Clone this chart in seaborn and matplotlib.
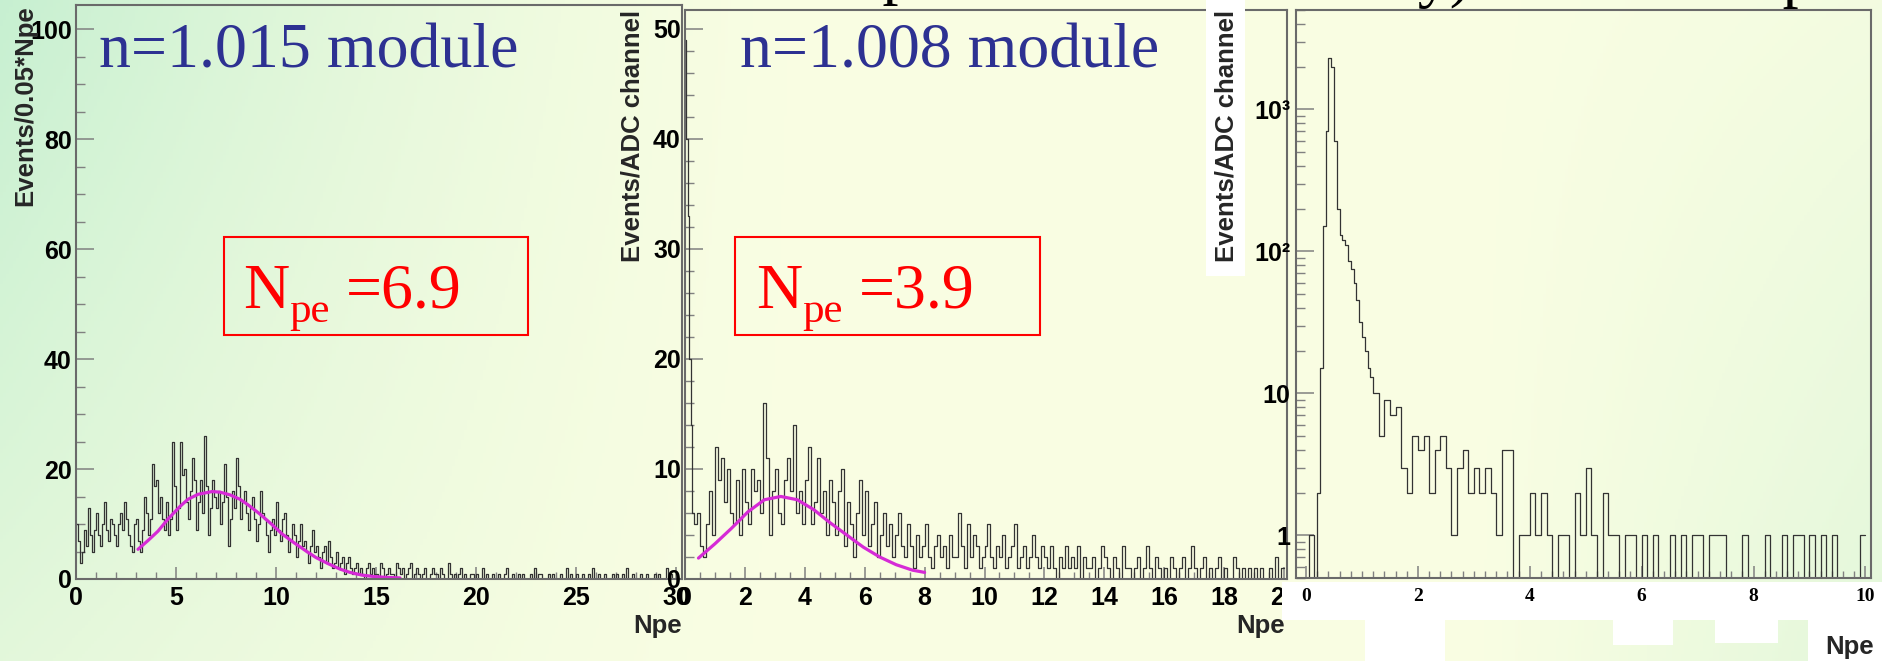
import numpy as np
import pandas as pd
import matplotlib
matplotlib.use("Agg")
import matplotlib.pyplot as plt
import seaborn as sns
from matplotlib.patches import Rectangle
from matplotlib.ticker import MultipleLocator, LogLocator, NullFormatter

W, H = 1882, 661

# ---- data ----
# panel 1: n=1.015, bins of 0.1 Npe starting at 0
p1_counts = [10, 7, 3, 5, 9, 6, 13, 8, 5, 9,
             12, 8, 6, 10, 14, 9, 7, 11, 10, 8,
             6, 10, 12, 9, 14, 11, 8, 6, 5, 10,
             11, 7, 5, 9, 15, 12, 8, 11, 21, 17,
             18, 12, 15, 11, 9, 14, 8, 11, 25, 17,
             9, 13, 25, 19, 20, 14, 11, 16, 22, 18,
             9, 14, 18, 12, 26, 17, 8, 13, 18, 15,
             13, 16, 10, 14, 21, 15, 6, 11, 16, 13,
             22, 17, 11, 14, 16, 12, 9, 13, 15, 11,
             7, 10, 16, 12, 11, 8, 5, 9, 11, 8,
             14, 9, 7, 11, 12, 8, 5, 7, 10, 8,
             4, 7, 10, 6, 7, 5, 3, 6, 9, 5,
             6, 4, 2, 5, 6, 3, 7, 4, 2, 3,
             5, 2, 3, 4, 1, 3, 4, 2, 1, 2,
             3, 1, 2, 1, 0, 2, 3, 1, 2, 1,
             1, 0, 3, 2, 0, 1, 2, 1, 1, 0,
             3, 2, 1, 2, 0, 1, 2, 3, 0, 1,
             2, 1, 0, 1, 2, 0, 0, 1, 2, 1,
             1, 0, 2, 1, 0, 0, 3, 1, 0, 1,
             0, 1, 2, 0, 1, 0, 0, 1, 1, 0,
             1, 0, 0, 2, 0, 1, 0, 0, 1, 0,
             0, 1, 0, 0, 1, 2, 0, 0, 1, 0,
             0, 1, 0, 1, 0, 0, 0, 1, 0, 2,
             0, 1, 1, 0, 0, 0, 1, 0, 1, 0,
             0, 0, 1, 0, 0, 2, 0, 1, 0, 0,
             1, 0, 0, 1, 0, 0, 1, 0, 2, 0,
             0, 1, 0, 0, 1, 0, 0, 0, 1, 0,
             1, 0, 0, 1, 0, 2, 0, 0, 1, 0,
             0, 0, 1, 0, 0, 1, 0, 0, 0, 1,
             0, 1, 0, 0, 0, 2, 0, 1, 0, 0]
p1_fit_x = [3.1, 3.6, 4.1, 4.6, 5.2, 5.6, 6.1, 6.8, 7.2, 7.7, 8.2, 8.6, 9.2, 9.8,
            10.3, 10.9, 11.5, 12.0, 12.6, 13.2, 13.7, 14.3, 14.9, 15.5, 16.2]
p1_fit_y = [5.4, 7.0, 8.7, 10.9, 13.2, 14.5, 15.4, 15.9, 15.8, 15.3, 14.5, 13.5, 11.8, 9.9,
            8.2, 6.6, 5.1, 3.9, 2.8, 1.8, 1.2, 0.7, 0.45, 0.3, 0.2]

# panel 2: n=1.008, fine bins (0.05) up to 0.4, then 0.1 bins
p2_fine = [49, 40, 33, 20, 14, 6, 5, 5]
p2_counts = [6, 3, 2, 5, 8, 4,
             12, 9, 11, 7, 10, 6, 5, 9, 4, 10,
             7, 5, 10, 8, 9, 6, 16, 11, 4, 8,
             10, 6, 5, 9, 11, 8, 14, 6, 8, 5,
             9, 12, 5, 7, 11, 6, 8, 4, 9, 7,
             4, 8, 10, 3, 7, 5, 2, 6, 9, 4,
             8, 3, 5, 7, 2, 4, 6, 3, 5, 2,
             4, 6, 3, 2, 5, 3, 1, 4, 2, 3,
             5, 2, 1, 3, 4, 2, 3, 1, 4, 2,
             2, 6, 3, 1, 5, 2, 4, 3, 1, 2,
             3, 5, 2, 1, 3, 2, 4, 1, 2, 3,
             5, 1, 2, 3, 1, 2, 4, 2, 1, 3,
             2, 1, 3, 1, 0, 2, 1, 3, 1, 2,
             1, 3, 0, 2, 1, 1, 2, 0, 1, 3,
             2, 1, 0, 2, 1, 0, 3, 1, 1, 0,
             1, 2, 0, 1, 3, 1, 0, 2, 1, 0,
             1, 0, 2, 1, 0, 1, 2, 0, 1, 3,
             1, 0, 1, 2, 0, 1, 0, 1, 2, 0,
             1, 0, 0, 2, 1, 0, 1, 0, 1, 0,
             1, 0, 1, 0, 0, 1, 0, 2, 0, 1]
p2_fit_x = [0.45, 1.0, 1.55, 2.1, 2.65, 3.2, 3.75, 4.3, 4.85, 5.4, 5.95, 6.5, 7.05, 7.6, 8.0]
p2_fit_y = [1.9, 3.2, 4.6, 6.1, 7.2, 7.5, 7.2, 6.3, 5.1, 4.0, 2.9, 2.0, 1.3, 0.8, 0.6]

# panel 3: log scale, 0.05 bins up to 1.2 then 0.1 bins
p3_fine = [0, 1, 1, 0, 2, 15, 150, 700, 2300, 2000, 600, 200, 130, 120, 110, 85,
           75, 60, 45, 32, 25, 20, 15, 13]
p3_counts = [10, 5, 9, 7, 8, 3, 2, 5, 4, 5, 2, 4, 5, 3, 1, 3, 4, 2, 3, 2,
             3, 2, 1, 4, 4, 0, 1, 1, 2, 1, 2, 1, 0, 1, 1, 0, 2, 1, 3, 1,
             0, 2, 1, 1, 0, 1, 1, 0, 1, 0, 1, 0, 0, 1, 0, 1, 0, 1, 1, 0,
             1, 1, 1, 0, 0, 0, 1, 0, 0, 0, 1, 0, 0, 1, 0, 1, 1, 0, 1, 0,
             1, 0, 1, 0, 0, 0, 0, 1]
p3_xticklabels = ["0", "2", "4", "6", "8", "10"]
p3_yticklabels = ["1", "10", "10²", "10³"]

titles = ["n=1.015 module", "n=1.008 module"]
npe_values = ["=6.9", "=3.9"]
ylabels = ["Events/0.05*Npe", "Events/ADC channel", "Events/ADC channel"]

# ---- style ----
sns.set_theme(style="ticks")
plt.rcParams["font.family"] = ["Liberation Sans", "DejaVu Sans"]
plt.rcParams["font.weight"] = "bold"

fig = plt.figure(figsize=(W / 100, H / 100), dpi=100)


def fx(x):
    return x / W


def fy(y):
    return 1 - y / H


# background gradient of the slide
bg = fig.add_axes([0, 0, 1, 1], zorder=-10)
yy, xx = np.mgrid[0:1:200j, 0:1:600j]
green = np.array([0.78, 0.94, 0.82])
cream = np.array([0.98, 0.995, 0.89])
w = np.clip(1 - xx / 0.45, 0, 1) ** 1.5 * (1 - 0.55 * yy)
w += np.clip((xx - 0.78) / 0.22, 0, 1) * 0.45 * (0.3 + 0.7 * yy)
w = np.clip(w, 0, 1)[..., None]
bg.imshow(cream * (1 - w) + green * w, aspect="auto", extent=[0, 1, 0, 1])
bg.axis("off")

ax1 = fig.add_axes([fx(76), fy(579), fx(682 - 76), (579 - 5) / H], zorder=0)
ax2 = fig.add_axes([fx(685), fy(579), fx(1287 - 685), (579 - 10) / H], zorder=0)
ax3 = fig.add_axes([fx(1296), fy(578), fx(1871 - 1296), (578 - 10) / H], zorder=2)


def draw_hist(ax, edges, counts):
    edges = np.asarray(edges, dtype=float)
    df = pd.DataFrame({"npe": (edges[:-1] + edges[1:]) / 2,
                       "n": np.asarray(counts, dtype=float)})
    sns.histplot(data=df, x="npe", weights="n", bins=list(edges), ax=ax,
                 element="step", fill=False, color="#333333", linewidth=0.9)


e1 = 0.1 * np.arange(len(p1_counts) + 1)
draw_hist(ax1, e1, p1_counts)

e2 = np.concatenate([0.05 * np.arange(len(p2_fine)),
                     0.05 * len(p2_fine) + 0.1 * np.arange(len(p2_counts) + 1)])
draw_hist(ax2, e2, p2_fine + p2_counts)

e3 = np.concatenate([0.05 * np.arange(len(p3_fine)),
                     0.05 * len(p3_fine) + 0.1 * np.arange(len(p3_counts) + 1)])
draw_hist(ax3, e3, p3_fine + p3_counts)

fit_col = "#d62ad6"
sns.lineplot(x=p1_fit_x, y=p1_fit_y, ax=ax1, color=fit_col, linewidth=2.3, sort=False, estimator=None)
sns.lineplot(x=p2_fit_x, y=p2_fit_y, ax=ax2, color=fit_col, linewidth=2.3, sort=False, estimator=None)

ax1.set_xlim(0, 30.3)
ax1.set_ylim(0, 104.4)
ax2.set_xlim(0, 20.1)
ax2.set_ylim(0, 51.7)
ax3.set_yscale("log")
ax3.set_xlim(-0.18, 10.1)
ax3.set_ylim(0.5, 5000)

ax1.xaxis.set_major_locator(MultipleLocator(5))
ax1.xaxis.set_minor_locator(MultipleLocator(1))
ax1.yaxis.set_major_locator(MultipleLocator(20))
ax1.yaxis.set_minor_locator(MultipleLocator(5))
ax2.xaxis.set_major_locator(MultipleLocator(2))
ax2.xaxis.set_minor_locator(MultipleLocator(0.5))
ax2.yaxis.set_major_locator(MultipleLocator(10))
ax2.yaxis.set_minor_locator(MultipleLocator(2))
ax3.xaxis.set_minor_locator(MultipleLocator(0.2))
ax3.yaxis.set_minor_locator(LogLocator(base=10, subs=np.arange(2, 10)))
ax3.yaxis.set_minor_formatter(NullFormatter())
ax3.set_yticks([1, 10, 100, 1000])
ax3.set_yticklabels(p3_yticklabels)
ax3.set_xticks([0, 2, 4, 6, 8, 10])
ax3.set_xticklabels(p3_xticklabels, fontfamily="Liberation Serif", fontsize=14)

for ax in (ax1, ax2, ax3):
    ax.set_facecolor("none")
    ax.set_xlabel("")
    ax.set_ylabel("")
    for s in ax.spines.values():
        s.set_visible(True)
        s.set_color("#6a6a6a")
        s.set_linewidth(1.5)
    ax.tick_params(axis="y", which="major", direction="in", length=13, width=1.1,
                   color="#808080", labelsize=18, pad=3, labelcolor="black")
    ax.tick_params(axis="y", which="minor", direction="in", length=6.5, width=1.0, color="#808080")
    ax.tick_params(axis="x", which="major", direction="in", length=9, width=1.1,
                   color="#808080", labelsize=18, pad=5, labelcolor="black")
    ax.tick_params(axis="x", which="minor", direction="in", length=5, width=1.0, color="#808080")
ax3.tick_params(axis="x", which="major", labelsize=14, pad=7)
ax3.tick_params(axis="y", which="major", pad=4)

# pasted white patches of the slide
for (x0, y0, x1, y1) in [(1206, 0, 1245, 276), (1282, 582, 1882, 620), (1365, 620, 1445, 661),
                         (1613, 620, 1673, 645), (1715, 620, 1778, 643), (1808, 620, 1882, 661)]:
    fig.add_artist(Rectangle((fx(x0), fy(y1)), fx(x1 - x0), (y1 - y0) / H,
                             transform=fig.transFigure, facecolor="white",
                             edgecolor="none", zorder=1))

# axis titles, ROOT style
fig.text(fx(25), fy(5), ylabels[0], rotation=90, ha="center", va="top", fontsize=18.5)
fig.text(fx(632), fy(10), ylabels[1], rotation=90, ha="center", va="top", fontsize=18.5)
fig.text(fx(1226), fy(10), ylabels[2], rotation=90, ha="center", va="top", fontsize=18.5)
for xr, yc in [(682, 626), (1285, 626), (1874, 647)]:
    fig.text(fx(xr), fy(yc), "Npe", ha="right", va="center", fontsize=18.5)

serif = dict(fontfamily="Liberation Serif", fontweight="normal", va="baseline")

# module labels and Npe boxes
for x_t, x_n, (bx0, bx1), title, val in [(99, 243, (224, 528), titles[0], npe_values[0]),
                                          (740, 756, (735, 1040), titles[1], npe_values[1])]:
    fig.text(fx(x_t), fy(67), title, fontsize=46, color="#2d3192", **serif)
    fig.add_artist(Rectangle((fx(bx0), fy(335)), fx(bx1 - bx0), 98 / H, transform=fig.transFigure,
                             facecolor="none", edgecolor="red", linewidth=1.5, zorder=3))
    fig.text(fx(x_n), fy(308), "N", fontsize=46, color="red", **serif)
    fig.text(fx(x_n + 46), fy(322), "pe", fontsize=31, color="red", **serif)
    fig.text(fx(x_n + 103), fy(308), val, fontsize=46, color="red", **serif)

# cut-off slide title at the very top
for x_s, base, txt in [(231, -15, "p"), (792, -8, "for p = 3-5 GeV/c"),
                       (1301, -5, "decay) and TOF separation")]:
    fig.text(fx(x_s), fy(base), txt, fontsize=46, color="black", **serif)

fig.savefig("out.png", dpi=100)
